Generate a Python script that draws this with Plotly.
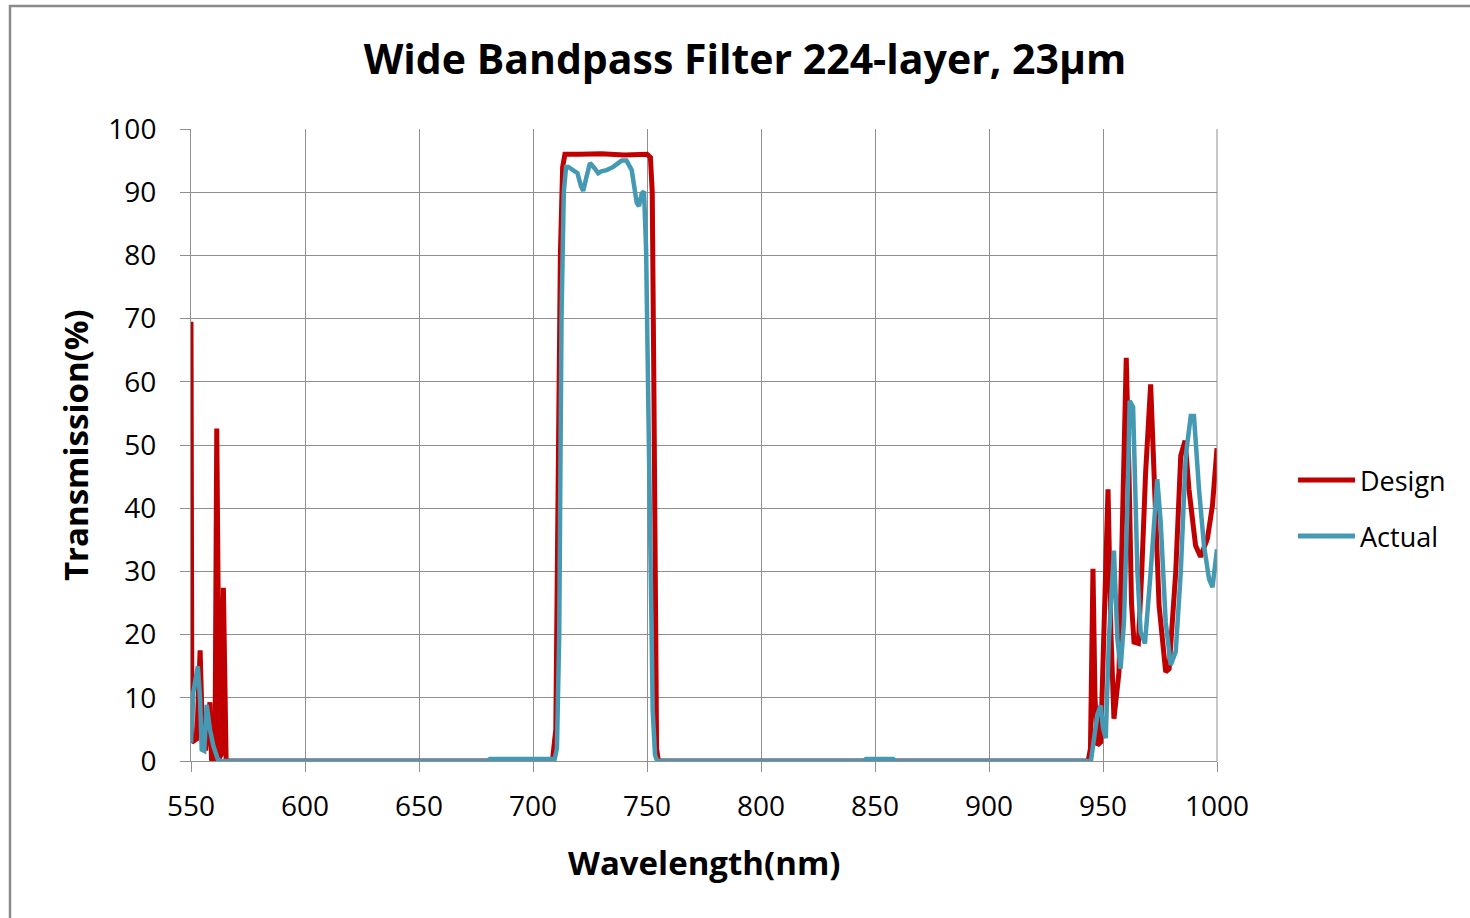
import plotly.graph_objects as go

# Design (modelled) transmission curve
design_nm = [550, 550.4, 552.5, 554, 555.2, 556.5, 558.3, 559, 560.5, 561.3, 562.5, 563.2,
             564.2, 565.4, 566, 600, 708.5, 710, 711, 712, 713, 714, 720, 730, 740, 750,
             751.5, 752.3, 753, 753.6, 754.2, 755, 900, 943.5, 944.5, 945.6, 946.5, 947.5,
             949, 950.5, 952.2, 953.5, 954.8, 957, 958.5, 960.2, 961.4, 962.5, 963.6, 965.5,
             967, 968.7, 970.9, 972.4, 974.6, 977.5, 979, 981.9, 984.1, 986, 987.7, 990.6,
             992.8, 995.8, 998, 1000]
design_t = [69.5, 3, 3.5, 17.5, 2, 2, 9.3, 0.3, 0, 52.6, 0.5, 1,
            27.4, 0.3, 0, 0, 0, 5, 40, 80, 94, 96, 96, 96.1, 95.9, 96,
            95.5, 90, 60, 20, 2, 0, 0, 0, 2, 30.4, 10, 2.5,
            3, 20, 43, 20, 6.7, 14, 35, 63.8, 45.7, 25, 18.8, 18.6,
            30, 45.7, 59.6, 45.7, 24.6, 14.1, 14.6, 29.9, 48.3, 50.7, 43, 34.1,
            32.3, 35.2, 40.4, 49.5]

# Measured (actual) transmission curve
actual_nm = [550, 551, 553, 554, 554.7, 555.8, 556.9, 558.3, 559.8, 561.3, 562, 680, 681,
             709.5, 710.5, 711.5, 712.5, 713.5, 714.5, 715.5, 717.5, 719.5, 721, 722, 723.5,
             725, 727, 728.6, 730, 732.3, 735.2, 738.9, 741, 743.3, 745.5, 746.5, 747.7,
             748.7, 749.6, 750.5, 751.5, 752.5, 753.5, 754.5, 845, 846, 858, 859, 944.7,
             946, 947.5, 949, 950, 951.2, 952.6, 954.8, 956.3, 957.7, 959.2, 960.7, 961.7,
             963.2, 965.1, 966.5, 968.4, 970.9, 973.8, 975.3, 977.5, 979.7, 981.9, 984.1,
             986.3, 988.5, 989.9, 992.1, 994.3, 996.5, 998, 1000]
actual_t = [2.9, 10.8, 15, 9.7, 1.8, 1.6, 8.9, 5.0, 2.4, 0.8, 0, 0, 0.3,
            0.3, 2, 20, 70, 90, 94, 94, 93.5, 93, 91, 90.2, 92.5,
            94.6, 93.8, 93, 93.3, 93.5, 94, 95, 95, 93.5, 88.3, 87.8, 89.8,
            90.1, 81, 60, 30, 8, 1, 0, 0, 0.3, 0.3, 0, 0,
            4, 7.3, 8.8, 5.2, 3.6, 19.4, 33.3, 19.4, 14.6, 22, 40.4, 57,
            56, 29.9, 20.4, 18.6, 29.9, 44.6, 37.8, 22, 15.2, 17.3, 29.9,
            48.3, 54.6, 54.6, 43, 34.1, 28.8, 27.5, 33.5]

x_ticks = [550, 600, 650, 700, 750, 800, 850, 900, 950, 1000]
y_ticks = [0, 10, 20, 30, 40, 50, 60, 70, 80, 90, 100]

series_names = ["Design", "Actual"]
series_colors = ["#C00000", "#4599B3"]

FONT = "Open Sans"
GRID = "#8f8f8f"

fig = go.Figure()
fig.add_trace(go.Scatter(x=design_nm, y=design_t, mode="lines", name=series_names[0],
                         line=dict(color=series_colors[0], width=5)))
fig.add_trace(go.Scatter(x=actual_nm, y=actual_t, mode="lines", name=series_names[1],
                         line=dict(color=series_colors[1], width=4.5)))

W, H = 1470, 918
L, R, T, B = 191, 253, 129, 157
pw, ph = W - L - R, H - T - B


def px(xp):
    return (xp - L) / pw


def py(yp):
    return (H - B - yp) / ph


fig.update_layout(
    width=W, height=H,
    margin=dict(l=L, r=R, t=T, b=B),
    paper_bgcolor="white", plot_bgcolor="white",
    showlegend=False,
    font=dict(family=FONT, color="black"),
    title=dict(text="<b>Wide Bandpass Filter 224-layer, 23µm</b>",
               x=745 / W, xanchor="center", y=1 - 60 / H, yanchor="middle",
               font=dict(family=FONT, size=41, color="black")),
)

fig.update_xaxes(
    range=[550, 1000], tickvals=x_ticks, ticktext=[str(v) for v in x_ticks],
    showgrid=True, gridcolor=GRID, gridwidth=1,
    showline=True, linecolor=GRID, linewidth=1, mirror=False,
    ticks="outside", ticklen=10, tickcolor=GRID,
    ticklabelstandoff=10,
    tickfont=dict(family=FONT, size=28, color="black"), zeroline=False,
)
fig.update_yaxes(
    range=[0, 100], tickvals=y_ticks, ticktext=[str(v) for v in y_ticks],
    showgrid=True, gridcolor=GRID, gridwidth=1,
    showline=True, linecolor=GRID, linewidth=1,
    ticks="outside", ticklen=10, tickcolor=GRID,
    ticklabelstandoff=18,
    tickfont=dict(family=FONT, size=28, color="black"), zeroline=False,
)

# right edge of the plot frame
fig.add_shape(type="line", xref="paper", yref="paper", x0=1, x1=1, y0=0, y1=1,
              line=dict(color=GRID, width=1))

# outer chart border (top and left)
fig.add_shape(type="rect", xref="paper", yref="paper",
              x0=px(10), x1=px(W + 20), y0=py(H + 20), y1=py(6),
              line=dict(color="#8a8a8a", width=2.5), layer="below")

# axis titles
fig.add_annotation(text="<b>Wavelength(nm)</b>", xref="paper", yref="paper",
                   x=0.5, y=py(862), xanchor="center", yanchor="middle",
                   showarrow=False, font=dict(family=FONT, size=33, color="black"))
fig.add_annotation(text="<b>Transmission(%)</b>", xref="paper", yref="paper",
                   x=px(75), y=0.5, xanchor="center", yanchor="middle", textangle=-90,
                   showarrow=False, font=dict(family=FONT, size=33, color="black"))

# legend entries
for name, color, yp in zip(series_names, series_colors, [480, 536]):
    fig.add_shape(type="line", xref="paper", yref="paper",
                  x0=px(1298), x1=px(1355), y0=py(yp), y1=py(yp),
                  line=dict(color=color, width=5))
    fig.add_annotation(text=name, xref="paper", yref="paper",
                       x=px(1358), y=py(yp), xanchor="left", yanchor="middle",
                       showarrow=False, font=dict(family=FONT, size=27, color="black"))

fig.write_html("out.html")
